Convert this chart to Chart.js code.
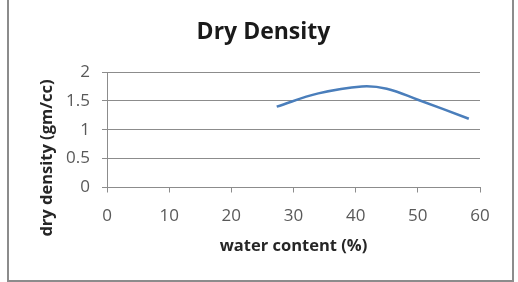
<!DOCTYPE html>
<html>
<head>
<meta charset="utf-8">
<script src="https://cdn.jsdelivr.net/npm/chart.js@4/dist/chart.umd.min.js"></script>
<style>
  html, body { margin: 0; padding: 0; background: #fff; }
  #wrap { position: relative; width: 518px; height: 282px; overflow: hidden; background: #fff; }
  #frame { position: absolute; left: 7px; top: -3px; width: 503px; height: 281px; border: 2px solid #8c8c8c; box-sizing: content-box; pointer-events: none; }
  canvas { position: absolute; left: 0; top: 0; }
</style>
</head>
<body>
<div id="wrap">
  <canvas id="c" width="518" height="282"></canvas>
  <div id="frame"></div>
</div>
<script>
const chartTitle = "Dry Density";
const xAxisTitle = "water content (%)";
const yAxisTitle = "dry density (gm/cc)";
const waterContent = [27.3, 34, 41, 45, 50, 58.2];
const dryDensity   = [1.40, 1.63, 1.75, 1.71, 1.52, 1.19];
const xRange = [0, 60, 10];
const yRange = [0, 2, 0.5];

const points = waterContent.map((x, i) => ({ x: x, y: dryDensity[i] }));
const FONT = "'Open Sans', 'Liberation Sans', sans-serif";

const yTitlePlugin = {
  id: 'yTitle',
  afterDraw(chart) {
    const ctx = chart.ctx;
    ctx.save();
    ctx.translate(47, 158);
    ctx.rotate(-Math.PI / 2);
    ctx.font = "bold 16.5px " + FONT;
    ctx.fillStyle = "#262626";
    ctx.textAlign = "center";
    ctx.textBaseline = "middle";
    ctx.fillText(yAxisTitle, 0, 0);
    ctx.restore();
  }
};

new Chart(document.getElementById('c'), {
  type: 'scatter',
  data: {
    datasets: [{
      data: points,
      showLine: true,
      borderColor: '#4a7ebb',
      borderWidth: 2.5,
      pointRadius: 0,
      pointHoverRadius: 0,
      tension: 0.4,
      fill: false
    }]
  },
  options: {
    responsive: false,
    animation: false,
    devicePixelRatio: 1,
    layout: { padding: { left: 47, right: 38, top: 0, bottom: 22 } },
    plugins: {
      legend: { display: false },
      tooltip: { enabled: false },
      title: {
        display: true,
        text: chartTitle,
        color: '#1a1a1a',
        font: { family: FONT, size: 23, weight: 'bold' },
        padding: { top: 18.2, bottom: 26.2 }
      }
    },
    scales: {
      x: {
        type: 'linear',
        min: xRange[0], max: xRange[1],
        afterFit(scale) { scale.height = 72.5; },
        ticks: { stepSize: xRange[2], color: '#595959', font: { family: FONT, size: 17 }, padding: 13.5, maxRotation: 0 },
        grid: { drawOnChartArea: false, drawTicks: true, tickLength: 5, color: '#8c8c8c', tickColor: '#8c8c8c' },
        border: { display: true, color: '#8c8c8c', width: 1 },
        title: { display: true, text: xAxisTitle, color: '#262626', font: { family: FONT, size: 16.5, weight: 'bold' }, padding: { top: 0, bottom: 4 } }
      },
      y: {
        type: 'linear',
        min: yRange[0], max: yRange[1],
        afterFit(scale) { scale.width = 60; },
        ticks: { stepSize: yRange[2], color: '#595959', font: { family: FONT, size: 17 }, padding: 12,
                 callback: (v) => String(Math.round(v * 10) / 10) },
        grid: { drawOnChartArea: true, drawTicks: true, tickLength: 5, color: '#8c8c8c', tickColor: '#8c8c8c' },
        border: { display: true, color: '#8c8c8c', width: 1 }
      }
    }
  },
  plugins: [yTitlePlugin]
});
</script>
</body>
</html>
